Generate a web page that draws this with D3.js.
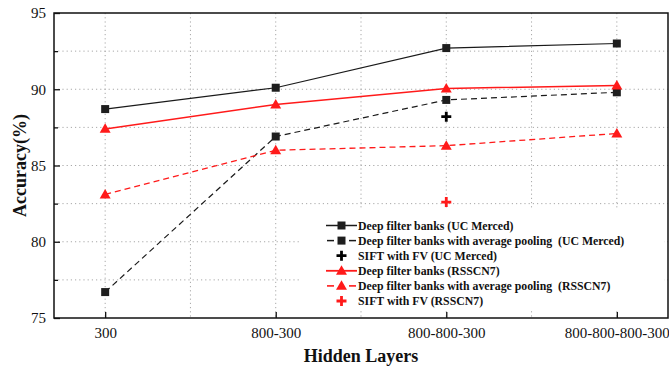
<!DOCTYPE html>
<html>
<head>
<meta charset="utf-8">
<script src="https://cdn.jsdelivr.net/npm/d3@7"></script>
<style>
  html, body { margin: 0; padding: 0; background: #fff; }
  svg { display: block; }
</style>
</head>
<body>
<svg id="chart" width="669" height="370"></svg>
<script>
// ---- data ----
const categories = ["300", "800-300", "800-800-300", "800-800-800-300"];
const ucDeep = [88.7, 90.1, 92.7, 93.0];
const ucPool = [76.7, 86.9, 89.3, 89.8];
const ucSift = [null, null, 88.2, null];
const rsDeep = [87.4, 89.0, 90.05, 90.25];
const rsPool = [83.1, 86.0, 86.3, 87.1];
const rsSift = [null, null, 82.6, null];
const yTicks = [75, 80, 85, 90, 95];
const yMinor = [77.5, 82.5, 87.5, 92.5];
const legendLabels = [
  "Deep filter banks (UC Merced)",
  "Deep filter banks with average pooling  (UC Merced)",
  "SIFT with FV (UC Merced)",
  "Deep filter banks (RSSCN7)",
  "Deep filter banks with average pooling  (RSSCN7)",
  "SIFT with FV (RSSCN7)"
];

// ---- layout ----
const L = 54, R = 668, T = 13, B = 318;
const svg = d3.select("#chart");
const serif = "'Liberation Serif', 'Times New Roman', serif";

const x = d3.scalePoint().domain(categories).range([L, R]).padding(0.3);
const y = d3.scaleLinear().domain([75, 95]).range([B, T]);
const step = x.step();
const xMid = categories.slice(0, -1).map(c => x(c) + step / 2);

// grid
const grid = svg.append("g").attr("stroke", "#a8a8a8").attr("stroke-width", 1)
  .attr("stroke-dasharray", "1.2,3");
yTicks.concat(yMinor).filter(v => v > 75 && v < 95).forEach(v => {
  grid.append("line").attr("x1", L).attr("x2", R).attr("y1", y(v)).attr("y2", y(v));
});
categories.forEach(c => {
  grid.append("line").attr("x1", x(c)).attr("x2", x(c)).attr("y1", T).attr("y2", B);
});
xMid.forEach(v => {
  grid.append("line").attr("x1", v).attr("x2", v).attr("y1", T).attr("y2", B);
});

// legend background
svg.append("rect").attr("x", 300).attr("y", 210).attr("width", 364).attr("height", 101)
  .attr("fill", "#fff");

// series
const series = [
  { vals: ucDeep, color: "#1a1a1a", dash: null, marker: "square", w: 1.2 },
  { vals: ucPool, color: "#1a1a1a", dash: "6,4", marker: "square", w: 1.2 },
  { vals: ucSift, color: "#000", dash: null, marker: "plus", w: 0 },
  { vals: rsDeep, color: "#ff1a1a", dash: null, marker: "triangle", w: 1.5 },
  { vals: rsPool, color: "#ff1a1a", dash: "6,4", marker: "triangle", w: 1.3 },
  { vals: rsSift, color: "#ff1a1a", dash: null, marker: "plus", w: 0 }
];

function drawMarker(g, type, cx, cy, color) {
  if (type === "square") {
    g.append("rect").attr("x", cx - 4).attr("y", cy - 4).attr("width", 8).attr("height", 8)
      .attr("fill", "#1e1e1e");
  } else if (type === "triangle") {
    g.append("path").attr("d", d3.symbol().type(d3.symbolTriangle).size(52)())
      .attr("transform", `translate(${cx},${cy + 0.8})`).attr("fill", color);
  } else if (type === "plus") {
    g.append("path").attr("d", `M${cx - 5},${cy}H${cx + 5}M${cx},${cy - 5}V${cy + 5}`)
      .attr("stroke", color).attr("stroke-width", 2.8).attr("fill", "none");
  }
}

const lineGen = d3.line().defined(d => d.v != null).x(d => x(d.c)).y(d => y(d.v));
const plot = svg.append("g");
series.forEach(s => {
  const pts = categories.map((c, i) => ({ c, v: s.vals[i] }));
  if (s.w > 0) {
    plot.append("path").datum(pts).attr("d", lineGen).attr("fill", "none")
      .attr("stroke", s.color).attr("stroke-width", s.w)
      .attr("stroke-dasharray", s.dash);
  }
  pts.filter(p => p.v != null).forEach(p => drawMarker(plot, s.marker, x(p.c), y(p.v), s.color));
});

// frame
svg.append("rect").attr("x", L).attr("y", T).attr("width", R - L).attr("height", B - T)
  .attr("fill", "none").attr("stroke", "#111").attr("stroke-width", 1.5);

// axes
svg.append("g").attr("transform", `translate(0,${B})`)
  .call(d3.axisBottom(x).tickSizeInner(-6).tickSizeOuter(0).tickPadding(9.5));
svg.append("g").attr("transform", `translate(${L},0)`)
  .call(d3.axisLeft(y).tickValues(yTicks).tickSizeInner(-6).tickSizeOuter(0).tickPadding(8));
svg.append("g").attr("transform", `translate(${L},0)`)
  .call(d3.axisLeft(y).tickValues(yMinor).tickSizeInner(-4).tickSizeOuter(0).tickFormat(""));
svg.selectAll(".domain").remove();
svg.selectAll(".tick line").attr("stroke", "#111").attr("stroke-width", 1.3);
svg.selectAll(".tick text").attr("font-family", serif).attr("font-size", 15).attr("fill", "#111");

// axis titles
svg.append("text").attr("x", (L + R) / 2).attr("y", 362).attr("text-anchor", "middle")
  .attr("font-family", serif).attr("font-weight", "bold").attr("font-size", 18)
  .attr("fill", "#111").text("Hidden Layers");
svg.append("text").attr("transform", `translate(26,${(T + B) / 2}) rotate(-90)`)
  .attr("text-anchor", "middle").attr("font-family", serif).attr("font-weight", "bold")
  .attr("font-size", 18).attr("fill", "#111").text("Accuracy(%)");

// legend
const lg = svg.append("g");
series.forEach((s, i) => {
  const cy = 225.5 + i * 15.1;
  if (s.w > 0) {
    const segs = s.dash ? [[327, 334], [349, 356]] : [[326, 357]];
    segs.forEach(([a, b]) => {
      lg.append("line").attr("x1", a).attr("x2", b).attr("y1", cy).attr("y2", cy)
        .attr("stroke", s.color).attr("stroke-width", s.w + 0.3);
    });
  }
  drawMarker(lg, s.marker, 341.5, cy, s.color);
  lg.append("text").attr("x", 358).attr("y", cy + 4.2)
    .attr("font-family", serif).attr("font-weight", "bold").attr("font-size", 11.8)
    .attr("fill", "#111").attr("xml:space", "preserve").style("white-space", "pre")
    .text(legendLabels[i]);
});
</script>
</body>
</html>
